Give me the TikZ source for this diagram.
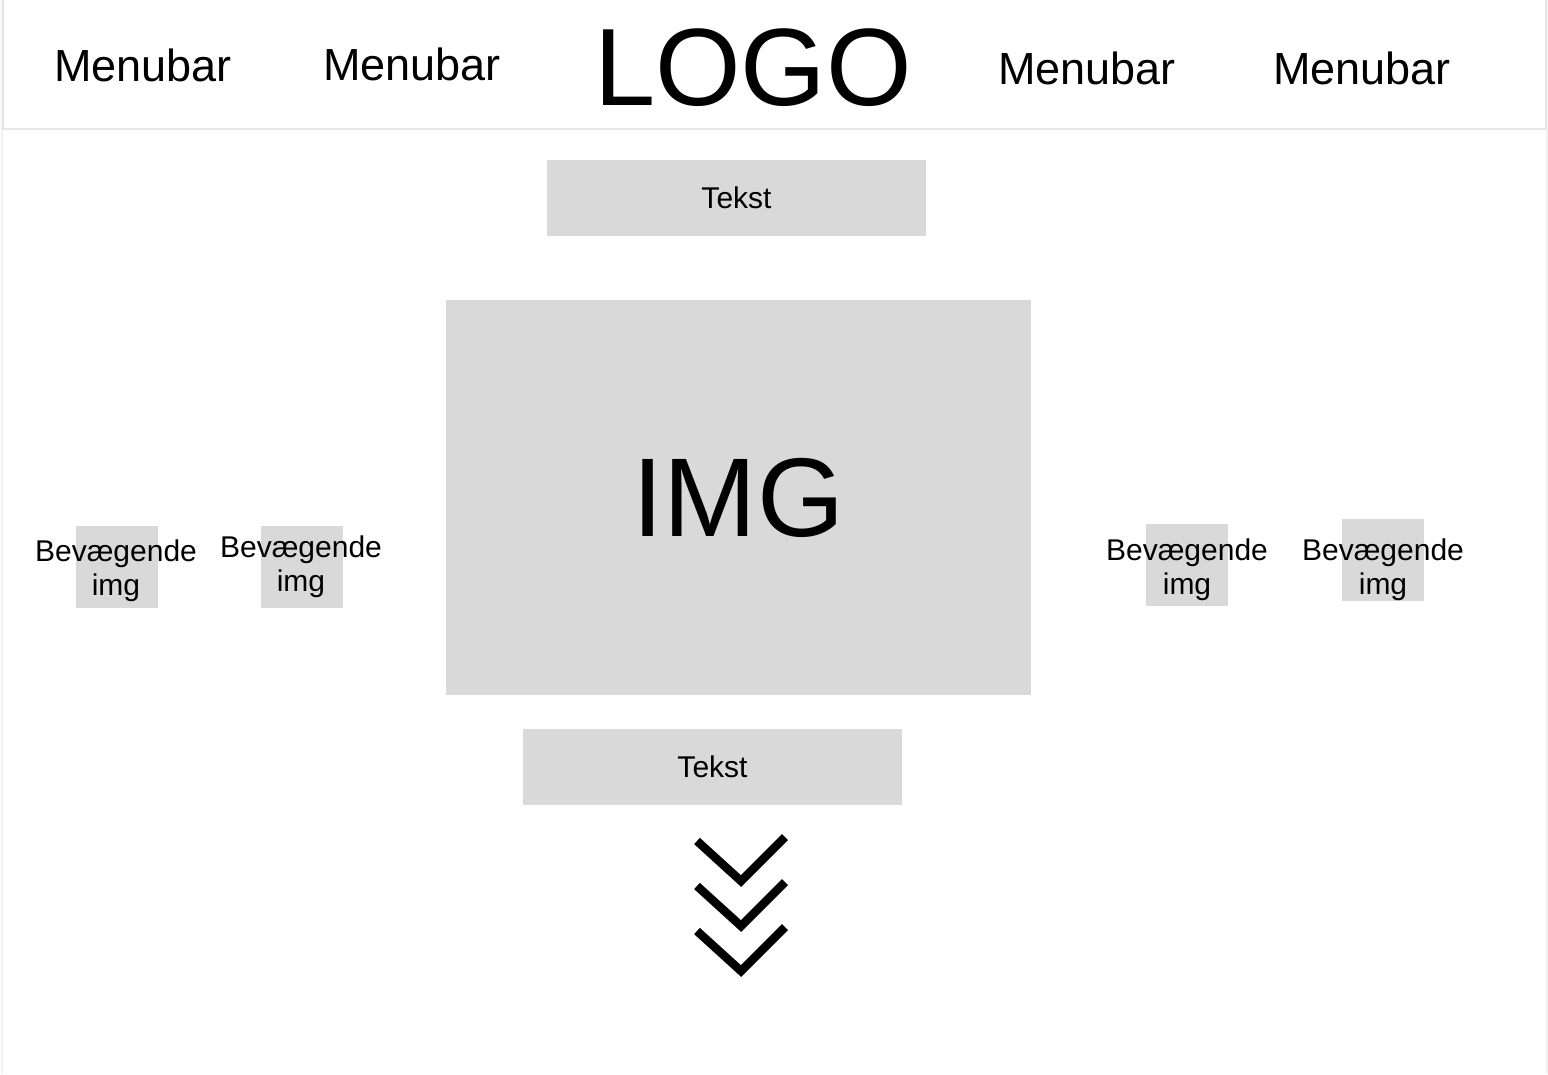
\documentclass[tikz,border=0pt]{standalone}
\usepackage{fontspec}
\setmainfont{Liberation Sans}
\definecolor{boxgray}{HTML}{D9D9D9}
\definecolor{bargray}{HTML}{E6E6E6}
\definecolor{pagegray}{HTML}{F2F2F2}
\tikzset{
  graybox/.style={fill=boxgray, draw=none, inner sep=0pt, outer sep=0pt},
  smallbox/.style={graybox, minimum width=82pt, minimum height=82pt},
  textbox/.style={graybox, minimum width=379pt, minimum height=76pt, font=\fontsize{30}{36}\selectfont},
  menutext/.style={anchor=base, inner sep=0pt, font=\fontsize{45}{54}\selectfont},
  movtext/.style={align=center, inner sep=0pt, font=\fontsize{30}{34}\selectfont},
  chevron/.style={line width=8.5pt, line join=miter},
}
\begin{document}
\begin{tikzpicture}[x=1pt, y=-1pt]
  \useasboundingbox (0,0) rectangle (1548,1074);
  % page frame and header bar
  \draw[pagegray, line width=2pt] (2,0) -- (2,1074);
  \draw[pagegray, line width=2pt] (1547,0) -- (1547,1074);
  \draw[bargray, fill=white, line width=2pt] (3,-2) rectangle (1546,129);
  \node[menutext] (menu1) at (143,81) {Menubar};
  \node[menutext] (menu2) at (412,80) {Menubar};
  \node[anchor=base, inner sep=0pt, font=\fontsize{110}{130}\selectfont] (logo) at (753,105) {LOGO};
  \node[menutext] (menu3) at (1087,84) {Menubar};
  \node[menutext] (menu4) at (1362,84) {Menubar};
  % text fields and main image
  \node[textbox] (tekst1) at (736.5,198) {Tekst};
  \node[graybox, minimum width=585pt, minimum height=395pt, font=\fontsize{112}{130}\selectfont] (img) at (738.5,497.5) {IMG};
  \node[textbox] (tekst2) at (712.5,767) {Tekst};
  % moving images
  \node[smallbox] (mov1) at (117,567) {};
  \node[movtext] (movtxt1) at (116,571) {Bevægende\\img};
  \node[smallbox] (mov2) at (302,567) {};
  \node[movtext] (movtxt2) at (301,567) {Bevægende\\img};
  \node[smallbox] (mov3) at (1187,565) {};
  \node[movtext] (movtxt3) at (1187,570) {Bevægende\\img};
  \node[smallbox] (mov4) at (1383,560) {};
  \node[movtext] (movtxt4) at (1383,570) {Bevægende\\img};
  % scroll arrows
  \foreach \dy in {0,45,90}
    \draw[chevron] (697,841+\dy) -- (741,881+\dy) -- (785,837+\dy);
\end{tikzpicture}
\end{document}
